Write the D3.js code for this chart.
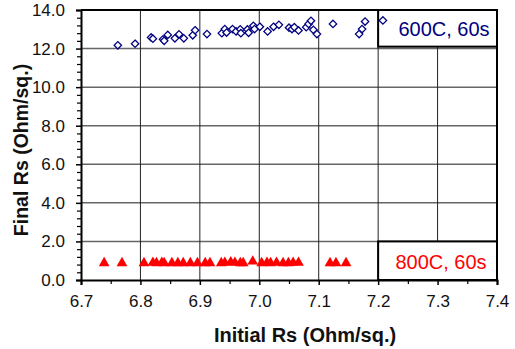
<!DOCTYPE html>
<html lang="en">
<head>
<meta charset="utf-8">
<title>Final Rs vs Initial Rs</title>
<style>
  body { margin: 0; background: #fff; overflow: hidden; }
  svg { font-family: "Liberation Sans", Arial, sans-serif; }
</style>
</head>
<body>
<svg id="chart" width="515" height="349"></svg>
<script src="https://cdnjs.cloudflare.com/ajax/libs/d3/7.8.5/d3.min.js"></script>
<script>
// 600C, 60s anneal: initial Rs, final Rs
var initial600 = [6.762, 6.791, 6.818, 6.821, 6.838, 6.840, 6.846, 6.858, 6.865, 6.873,
                  6.888, 6.892, 6.912, 6.937, 6.942, 6.945, 6.955, 6.961, 6.968, 6.969,
                  6.980, 6.982, 6.990, 6.992, 7.001, 7.014, 7.024, 7.033, 7.050, 7.055,
                  7.059, 7.066, 7.079, 7.083, 7.087, 7.091, 7.097, 7.124, 7.168, 7.173,
                  7.178, 7.208];
var final600 = [12.17, 12.25, 12.58, 12.51, 12.48, 12.40, 12.71, 12.53, 12.74, 12.53,
                12.69, 12.95, 12.75, 12.80, 13.01, 12.83, 13.01, 12.89, 13.00, 12.80,
                12.99, 12.82, 13.18, 13.01, 13.13, 12.89, 13.13, 13.23, 13.08, 13.01,
                13.11, 12.94, 13.11, 13.28, 13.44, 12.97, 12.75, 13.28, 12.75, 13.01,
                13.40, 13.46];
// 800C, 60s anneal
var initial800 = [6.739, 6.769, 6.806, 6.821, 6.827, 6.836, 6.840, 6.853, 6.863, 6.872,
                  6.884, 6.896, 6.909, 6.917, 6.936, 6.942, 6.952, 6.959, 6.968, 6.973,
                  6.989, 7.004, 7.013, 7.019, 7.029, 7.040, 7.049, 7.057, 7.066, 7.119,
                  7.129, 7.146];
var final800 = [0.88, 0.88, 0.88, 0.90, 0.88, 0.90, 0.88, 0.88, 0.88, 0.88,
                0.88, 0.88, 0.88, 0.88, 0.88, 0.90, 0.92, 0.90, 0.88, 0.88,
                0.96, 0.88, 0.90, 0.88, 0.90, 0.88, 0.88, 0.90, 0.90, 0.88,
                0.88, 0.88];
var xTicks = [6.7, 6.8, 6.9, 7.0, 7.1, 7.2, 7.3, 7.4];
var yTicks = [0, 2, 4, 6, 8, 10, 12, 14];
var legendLabels = ["600C, 60s", "800C, 60s"];

var svg = d3.select("#chart");
var pLeft = 81, pRight = 497, pTop = 10, pBottom = 280;

var x = d3.scaleLinear().domain([6.7, 7.4]).range([pLeft, pRight]);
var y = d3.scaleLinear().domain([0, 14]).range([pBottom, pTop]);

// grid
svg.append("g").selectAll("line").data(yTicks.slice(1, -1)).join("line")
  .attr("x1", pLeft).attr("x2", pRight)
  .attr("y1", d => y(d)).attr("y2", d => y(d))
  .attr("stroke", "#666").attr("stroke-width", 1.5);
svg.append("g").selectAll("line").data(xTicks.slice(1, -1)).join("line")
  .attr("x1", d => x(d)).attr("x2", d => x(d))
  .attr("y1", pTop).attr("y2", pBottom)
  .attr("stroke", "#222").attr("stroke-width", 1);

// legend boxes (sit under the points)
svg.append("rect").attr("x", x(7.2)).attr("y", pTop)
  .attr("width", pRight - x(7.2)).attr("height", y(12.1) - pTop)
  .attr("fill", "#fff").attr("stroke", "#000").attr("stroke-width", 2);
svg.append("rect").attr("x", x(7.2)).attr("y", y(2.0))
  .attr("width", pRight - x(7.2)).attr("height", pBottom - y(2.0))
  .attr("fill", "#fff").attr("stroke", "#000").attr("stroke-width", 2);

svg.append("text").attr("x", 444).attr("y", 36).attr("text-anchor", "middle")
  .attr("font-size", 20).attr("fill", "#000080").text(legendLabels[0]);
svg.append("text").attr("x", 441).attr("y", 269).attr("text-anchor", "middle")
  .attr("font-size", 20).attr("fill", "#ff0000").text(legendLabels[1]);

// plot frame top/right
svg.append("path")
  .attr("d", "M" + pLeft + "," + pTop + "H" + pRight + "V" + pBottom)
  .attr("fill", "none").attr("stroke", "#000").attr("stroke-width", 2);

// axes
var xAxis = d3.axisBottom(x).tickValues(xTicks).tickFormat(d3.format(".1f"))
  .tickSize(5).tickPadding(10);
var gx = svg.append("g").attr("transform", "translate(0," + pBottom + ")").call(xAxis);
gx.selectAll(".tick text").attr("font-size", 17).attr("fill", "#111").attr("font-family", "Liberation Sans, Arial, sans-serif");
gx.selectAll(".tick line").attr("stroke", "#000").attr("stroke-width", 1.5);
gx.select(".domain").attr("stroke", "#000").attr("stroke-width", 2);
svg.append("g").attr("transform", "translate(0," + pBottom + ")")
  .call(d3.axisBottom(x).tickValues(d3.range(6.75, 7.4, 0.1)).tickSize(4).tickFormat(""))
  .call(g => g.select(".domain").remove())
  .selectAll("line").attr("stroke-width", 1.2);

var yAxis = d3.axisLeft(y).tickValues(yTicks).tickFormat(d3.format(".1f"))
  .tickSize(5).tickPadding(11);
var gy = svg.append("g").attr("transform", "translate(" + pLeft + ",0)").call(yAxis);
gy.selectAll(".tick text").attr("font-size", 17).attr("fill", "#111").attr("font-family", "Liberation Sans, Arial, sans-serif");
gy.selectAll(".tick line").attr("stroke", "#000").attr("stroke-width", 1.5);
gy.select(".domain").attr("stroke", "#000").attr("stroke-width", 2);
var minorY = d3.range(0, 14.01, 0.4).filter(v => Math.abs(v / 2 - Math.round(v / 2)) > 0.01);
svg.append("g").attr("transform", "translate(" + pLeft + ",0)")
  .call(d3.axisLeft(y).tickValues(minorY).tickSize(4).tickFormat(""))
  .call(g => g.select(".domain").remove())
  .selectAll("line").attr("stroke-width", 1.2);

// points
var diamond = "M0,-3.7L3.7,0L0,3.7L-3.7,0Z";
svg.append("g").selectAll("path").data(d3.range(initial600.length)).join("path")
  .attr("d", diamond)
  .attr("transform", i => "translate(" + x(initial600[i]) + "," + y(final600[i]) + ")")
  .attr("fill", "#fff").attr("stroke", "#000080").attr("stroke-width", 1.3);

var tri = d3.symbol(d3.symbolTriangle).size(50);
svg.append("g").selectAll("path").data(d3.range(initial800.length)).join("path")
  .attr("d", tri)
  .attr("transform", i => "translate(" + x(initial800[i]) + "," + y(final800[i]) + ")")
  .attr("fill", "#ff0000");

// titles
svg.append("text").attr("x", 305).attr("y", 342).attr("text-anchor", "middle")
  .attr("font-size", 20).attr("font-weight", "bold").attr("fill", "#111")
  .text("Initial Rs (Ohm/sq.)");
svg.append("text").attr("transform", "translate(28,150) rotate(-90)")
  .attr("text-anchor", "middle")
  .attr("font-size", 19.5).attr("font-weight", "bold").attr("fill", "#111")
  .text("Final Rs (Ohm/sq.)");
</script>
</body>
</html>
